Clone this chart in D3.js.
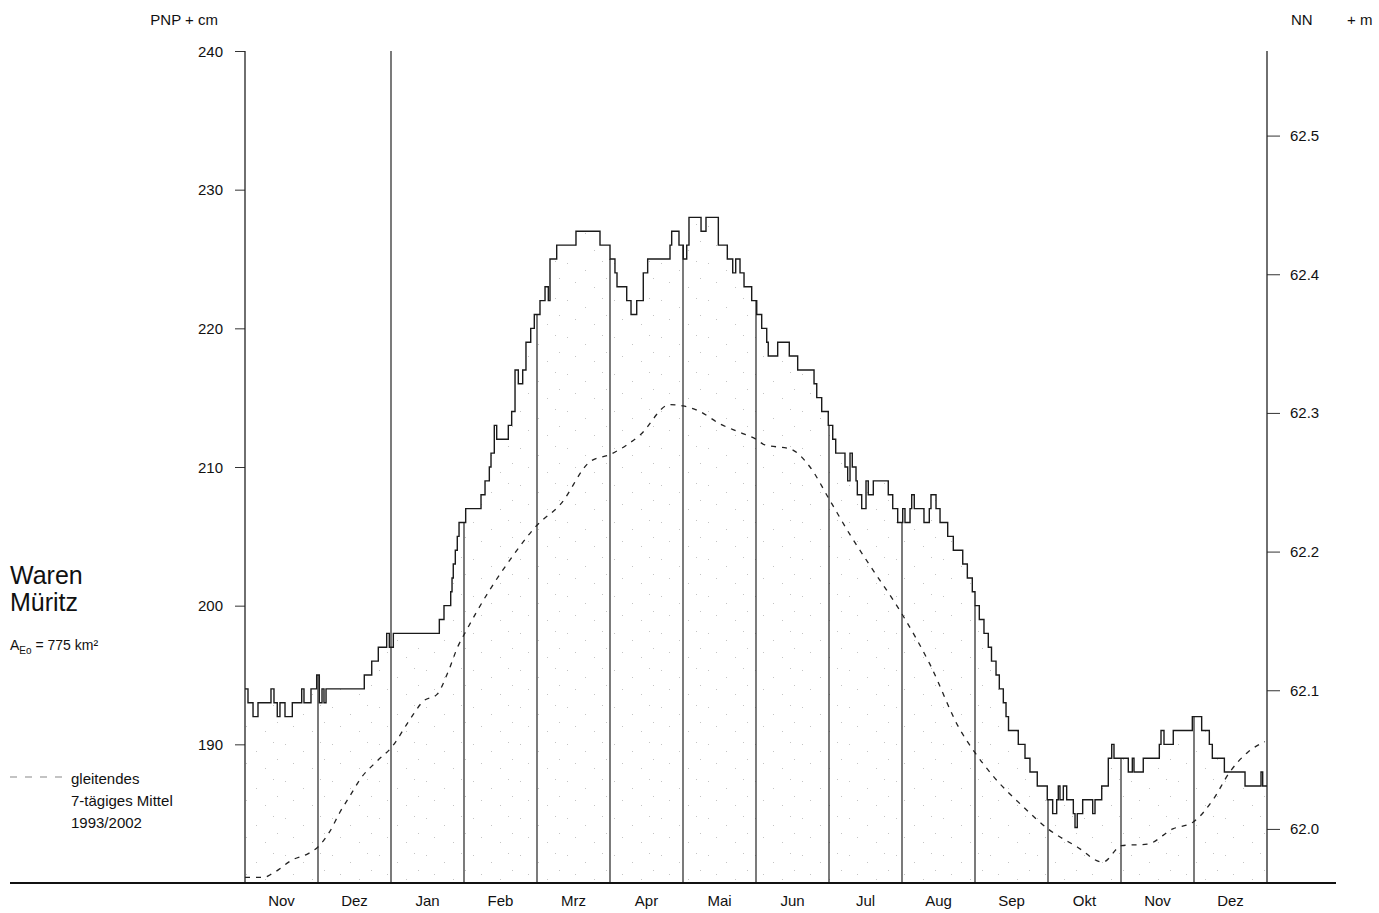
<!DOCTYPE html>
<html>
<head>
<meta charset="utf-8">
<script src="https://cdn.jsdelivr.net/npm/d3@7"></script>
<style>
  body { margin: 0; background: #fff; }
  svg text { font-family: "Liberation Sans Narrow", "Arial Narrow", "Liberation Sans", sans-serif; fill: #111; }
</style>
</head>
<body>
<div id="chart"></div>
<script>
// month labels (Nov 2001 .. Dez 2002)
var months = ["Nov", "Dez", "Jan", "Feb", "Mrz", "Apr", "Mai", "Jun", "Jul", "Aug", "Sep", "Okt", "Nov", "Dez"];
var leftTicks = [190, 200, 210, 220, 230, 240];
var rightTicks = [62.0, 62.1, 62.2, 62.3, 62.4, 62.5];

// water level (PNP + cm): step starts in month units and level held from there
var stepPos = [0, 0.041, 0.110, 0.178, 0.356, 0.397, 0.442, 0.479, 0.548, 0.648,
  0.777, 0.808, 0.904, 0.982, 1.018, 1.055, 1.082, 1.110, 1.634, 1.736,
  1.826, 1.941, 1.977, 2.032, 2.662, 2.726, 2.818, 2.836, 2.853, 2.881,
  2.908, 2.932, 3.023, 3.233, 3.288, 3.347, 3.370, 3.415, 3.448, 3.607,
  3.653, 3.699, 3.744, 3.804, 3.849, 3.914, 3.963, 4.041, 4.110, 4.155,
  4.178, 4.270, 4.534, 4.863, 5.000, 5.068, 5.096, 5.229, 5.288, 5.366,
  5.456, 5.516, 5.822, 5.845, 5.945, 6.004, 6.051, 6.082, 6.247, 6.315,
  6.484, 6.607, 6.681, 6.722, 6.781, 6.836, 6.941, 7.010, 7.078, 7.147,
  7.168, 7.297, 7.456, 7.571, 7.795, 7.832, 7.900, 7.990, 8.051, 8.092,
  8.219, 8.256, 8.288, 8.319, 8.370, 8.388, 8.448, 8.507, 8.538, 8.607,
  8.812, 8.873, 8.941, 9.010, 9.041, 9.110, 9.133, 9.168, 9.301, 9.374,
  9.397, 9.466, 9.521, 9.626, 9.703, 9.832, 9.895, 9.963, 10.000, 10.059,
  10.123, 10.182, 10.226, 10.288, 10.333, 10.388, 10.425, 10.459, 10.593, 10.685,
  10.753, 10.853, 10.990, 11.064, 11.119, 11.141, 11.164, 11.210, 11.256, 11.347,
  11.370, 11.401, 11.475, 11.612, 11.644, 11.736, 11.826, 11.873, 11.904, 12.100,
  12.155, 12.178, 12.305, 12.525, 12.548, 12.589, 12.716, 12.977, 13.105, 13.210,
  13.251, 13.416, 13.699, 13.918, 13.941, 14];
var stepLevel = [194, 193, 192, 193, 194, 193, 192, 193, 192, 193,
  194, 193, 194, 195, 193, 194, 193, 194, 195, 196,
  197, 198, 197, 198, 199, 200, 201, 202, 203, 204,
  205, 206, 207, 208, 209, 210, 211, 213, 212, 213,
  214, 217, 216, 217, 219, 220, 221, 222, 223, 222,
  225, 226, 227, 226, 225, 224, 223, 222, 221, 222,
  224, 225, 226, 227, 226, 225, 226, 228, 227, 228,
  226, 225, 224, 225, 224, 223, 222, 221, 220, 219,
  218, 219, 218, 217, 216, 215, 214, 213, 212, 211,
  210, 209, 211, 210, 209, 208, 207, 209, 208, 209,
  208, 207, 206, 207, 206, 207, 208, 207, 206, 207,
  208, 207, 206, 205, 204, 203, 202, 201, 200, 199,
  198, 197, 196, 195, 194, 193, 192, 191, 190, 189,
  188, 187, 186, 185, 186, 187, 186, 187, 186, 185,
  184, 185, 186, 185, 186, 187, 189, 190, 189, 188,
  189, 188, 189, 190, 191, 190, 191, 192, 191, 190,
  189, 188, 187, 188, 187, 187];

// gleitendes 7-tägiges Mittel 1993/2002
var meanPos = [0, 0.25, 0.38, 0.66, 0.86, 1.0, 1.16, 1.30, 1.44, 1.58,
  1.81, 2.01, 2.26, 2.44, 2.63, 2.78, 2.92, 3.0, 3.36, 3.63,
  4.0, 4.32, 4.73, 5.0, 5.41, 5.82, 6.0, 6.23, 6.51, 6.78,
  7.0, 7.12, 7.47, 7.74, 8.0, 8.29, 8.56, 9.0, 9.38, 9.79,
  10.0, 10.25, 10.66, 11.0, 11.40, 11.75, 12.01, 12.36, 12.71, 12.99,
  13.26, 13.49, 13.73, 13.97];
var meanLevel = [180.4, 180.4, 180.7, 181.7, 182.1, 182.6, 183.7, 185.1, 186.3, 187.5,
  188.8, 189.8, 191.8, 193.1, 193.6, 195.2, 197.1, 197.9, 201.2, 203.3,
  205.8, 207.3, 210.4, 210.9, 212.3, 214.5, 214.4, 214.0, 213.1, 212.5,
  212.0, 211.6, 211.3, 210.0, 207.7, 205.1, 202.9, 199.4, 195.8, 191.1,
  189.4, 187.7, 185.5, 183.9, 182.6, 181.5, 182.7, 182.8, 183.9, 184.4,
  186.0, 188.0, 189.4, 190.2];

var pnpZero = 60.161; // m NN

var svgWidth = 1379, svgHeight = 913;
var svg = d3.select("#chart").append("svg")
  .attr("width", svgWidth)
  .attr("height", svgHeight);

var x = d3.scaleLinear().domain([0, 14]).range([245, 1267]);
var y = d3.scaleLinear().domain([180, 240]).range([883, 51]);
var yNN = d3.scaleLinear().domain([180 / 100 + pnpZero, 240 / 100 + pnpZero]).range([883, 51]);

var steps = stepPos.map(function(p, i) { return { pos: p, v: stepLevel[i] }; });
var means = meanPos.map(function(p, i) { return { pos: p, v: meanLevel[i] }; });

function levelAt(p) {
  var v = steps[0].v;
  steps.forEach(function(s) { if (s.pos <= p + 1e-9) v = s.v; });
  return v;
}

// faint stipple pattern under the curve
var defs = svg.append("defs");
var pat = defs.append("pattern")
  .attr("id", "stipple")
  .attr("patternUnits", "userSpaceOnUse")
  .attr("width", 47).attr("height", 37);
[[3, 4], [21, 11], [38, 2], [11, 23], [30, 28], [42, 19]].forEach(function(d) {
  pat.append("rect").attr("x", d[0]).attr("y", d[1]).attr("width", 1).attr("height", 1)
    .attr("fill", "#c4c4c4");
});

var area = d3.area()
  .curve(d3.curveStepAfter)
  .x(d => x(d.pos))
  .y0(y(180))
  .y1(d => y(d.v));

svg.append("path")
  .datum(steps)
  .attr("d", area)
  .attr("fill", "url(#stipple)");

// month boundary lines up to the curve
d3.range(1, 14).forEach(function(m) {
  var top = (m === 2) ? y(240) : y(levelAt(m));
  svg.append("line")
    .attr("x1", x(m)).attr("x2", x(m))
    .attr("y1", y(180)).attr("y2", top)
    .attr("stroke", "#222").attr("stroke-width", 1.2);
});

// left and right axes
var leftAxis = d3.axisLeft(y).tickValues(leftTicks).tickSize(10).tickPadding(12).tickFormat(d3.format("d"));
var gl = svg.append("g").attr("transform", `translate(${x(0)},0)`).call(leftAxis);
gl.select(".domain").remove();
svg.append("line").attr("x1", x(0)).attr("x2", x(0)).attr("y1", y(240)).attr("y2", y(180))
  .attr("stroke", "#222").attr("stroke-width", 1.3);

var rightAxis = d3.axisRight(yNN).tickValues(rightTicks).tickSize(13).tickPadding(10).tickFormat(d3.format(".1f"));
var gr = svg.append("g").attr("transform", `translate(${x(14)},0)`).call(rightAxis);
gr.select(".domain").remove();
svg.append("line").attr("x1", x(14)).attr("x2", x(14)).attr("y1", y(240)).attr("y2", y(180))
  .attr("stroke", "#222").attr("stroke-width", 1.3);

svg.selectAll(".tick line").attr("stroke", "#333").attr("stroke-width", 1);
svg.selectAll(".tick text").style("font-size", "15px").attr("fill", "#111")
  .style("font-family", "'Liberation Sans Narrow', 'Arial Narrow', sans-serif");
gl.selectAll(".tick text").attr("dy", "0.35em");

// step hydrograph
var stepLine = d3.line()
  .curve(d3.curveStepAfter)
  .x(d => x(d.pos))
  .y(d => y(d.v));
svg.append("path")
  .datum(steps)
  .attr("d", stepLine)
  .attr("fill", "none")
  .attr("stroke", "#1a1a1a")
  .attr("stroke-width", 1.4);

// mean line
var meanLine = d3.line()
  .curve(d3.curveMonotoneX)
  .x(d => x(d.pos))
  .y(d => y(d.v));
svg.append("path")
  .datum(means)
  .attr("d", meanLine)
  .attr("fill", "none")
  .attr("stroke", "#222")
  .attr("stroke-width", 1.3)
  .attr("stroke-dasharray", "5,6");

// baseline
svg.append("line")
  .attr("x1", 10).attr("x2", 1336)
  .attr("y1", y(180)).attr("y2", y(180))
  .attr("stroke", "#111").attr("stroke-width", 2);

// month labels
svg.selectAll(".month")
  .data(months)
  .enter()
  .append("text")
  .attr("class", "month")
  .attr("x", (d, i) => x(i + 0.5))
  .attr("y", 906)
  .attr("text-anchor", "middle")
  .style("font-size", "15px")
  .text(d => d);

// axis titles
svg.append("text").attr("x", 218).attr("y", 25).attr("text-anchor", "end")
  .style("font-size", "15px").text("PNP + cm");
svg.append("text").attr("x", 1291).attr("y", 25)
  .style("font-size", "15px").text("NN");
svg.append("text").attr("x", 1347).attr("y", 25)
  .style("font-size", "15px").text("+ m");

// station name
svg.append("text").attr("x", 10).attr("y", 584).style("font-size", "25px").text("Waren");
svg.append("text").attr("x", 10).attr("y", 611).style("font-size", "25px").text("Müritz");
var ae = svg.append("text").attr("x", 10).attr("y", 650).style("font-size", "14px");
ae.append("tspan").text("A");
ae.append("tspan").attr("dy", 4).style("font-size", "10px").text("Eo");
ae.append("tspan").attr("dy", -4).text(" = 775 km²");

// legend
svg.append("line")
  .attr("x1", 10).attr("x2", 62).attr("y1", 777).attr("y2", 777)
  .attr("stroke", "#888").attr("stroke-width", 1.2)
  .attr("stroke-dasharray", "7,8");
["gleitendes", "7-tägiges Mittel", "1993/2002"].forEach(function(t, i) {
  svg.append("text").attr("x", 71).attr("y", 784 + i * 22)
    .style("font-size", "15px").text(t);
});
</script>
</body>
</html>
